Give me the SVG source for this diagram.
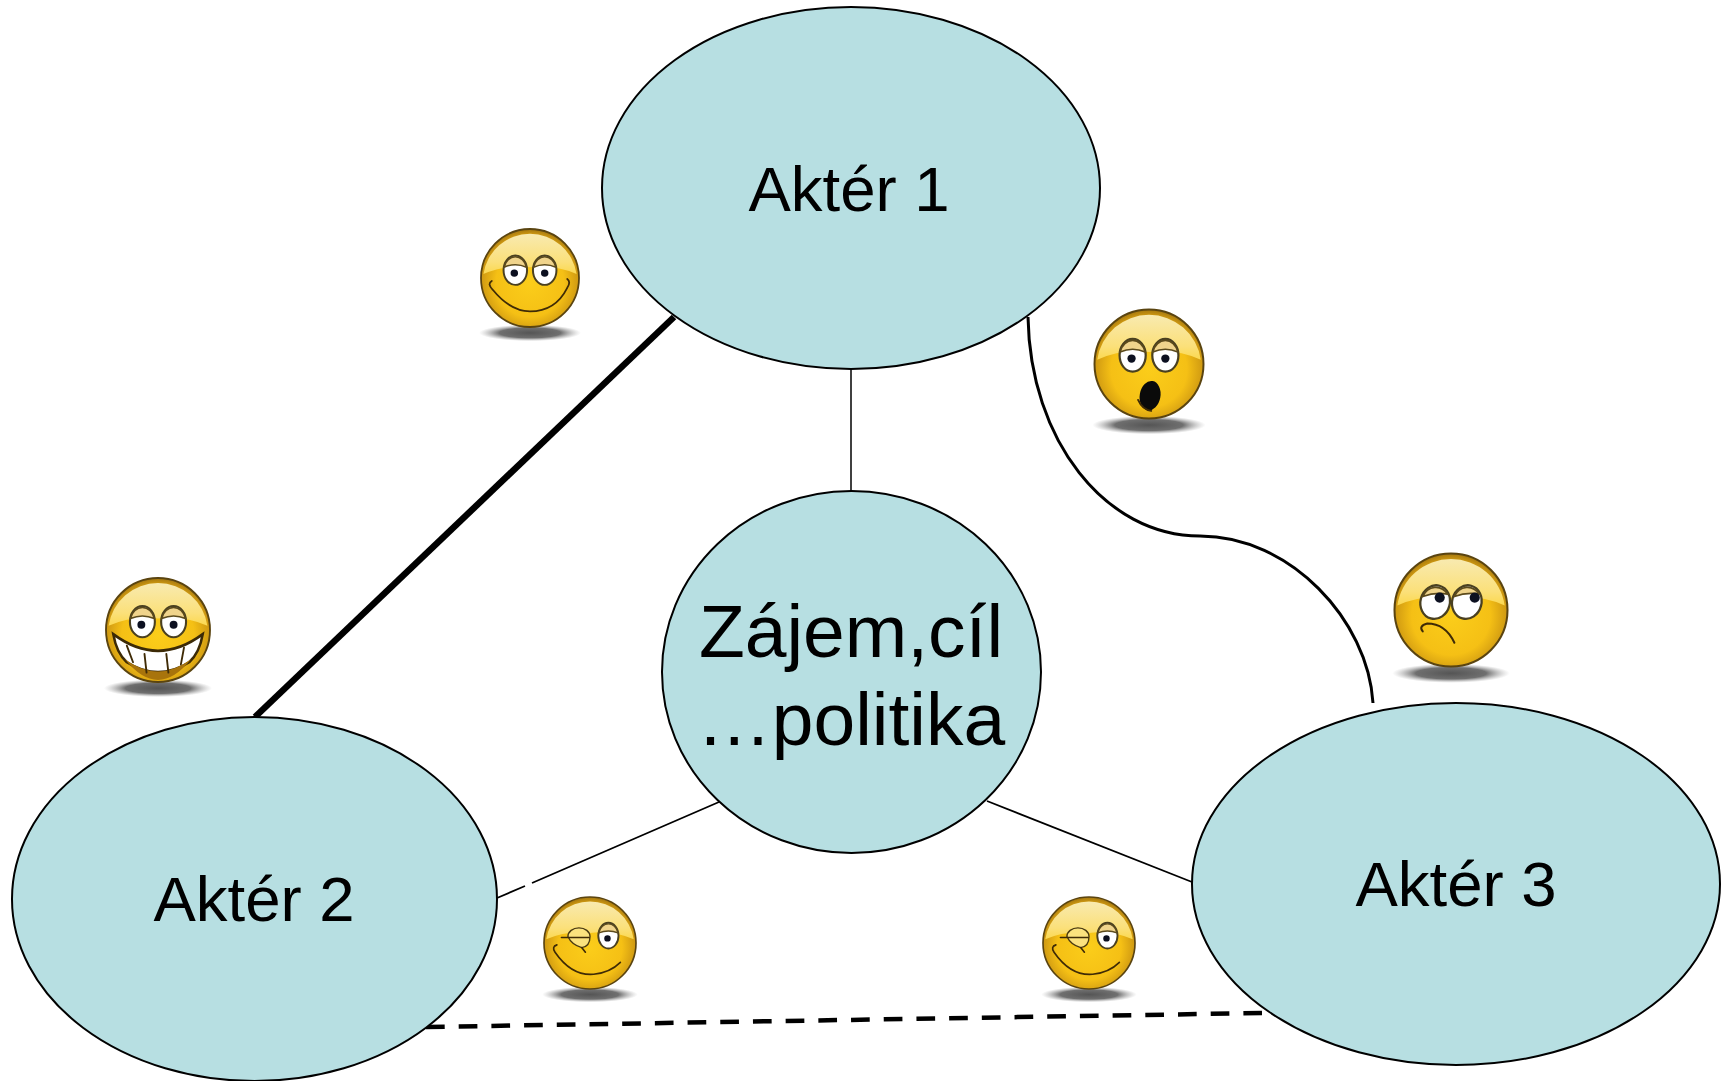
<svg xmlns="http://www.w3.org/2000/svg" width="1727" height="1081" viewBox="0 0 1727 1081">
<style>
.n{fill:#b7dfe2;stroke:#000;stroke-width:2}
.t{font-family:"Liberation Sans",Arial,sans-serif;font-size:63.500px;fill:#000;text-anchor:middle}
.b{font-size:75px}
.c{fill:none;stroke:#000}
.f{fill:none;stroke:#3f2b06;stroke-width:1.800;stroke-linecap:round}
.w{fill:url(#eye);stroke:#4a4020;stroke-width:2}
.l{fill:#f0d48c;stroke:#5b4a1c;stroke-width:1.500}
.p{fill:#0c1020}
</style>
<defs>
<radialGradient id="ball" cx="50%" cy="55%" r="58%">
<stop offset="0" stop-color="#fbcd1a"/><stop offset=".6" stop-color="#f5c015"/><stop offset=".85" stop-color="#d09a12"/><stop offset="1" stop-color="#8a620c"/>
</radialGradient>
<linearGradient id="gloss" x1="0" y1="0" x2="0" y2="1">
<stop offset="0" stop-color="#f8eab0"/><stop offset=".7" stop-color="#fbe07a"/><stop offset="1" stop-color="#fbd84e"/>
</linearGradient>
<radialGradient id="eye" cx="50%" cy="55%" r="60%">
<stop offset="0" stop-color="#fff"/><stop offset=".7" stop-color="#fff"/><stop offset="1" stop-color="#c6cbdc"/>
</radialGradient>
<radialGradient id="sh"><stop offset="0" stop-color="#555"/><stop offset=".6" stop-color="#6f6f6f"/><stop offset="1" stop-color="#aaa" stop-opacity="0"/></radialGradient>
<g id="base">
<ellipse cx="0" cy="56" rx="52" ry="8.500" fill="url(#sh)"/>
<circle r="50" fill="url(#ball)" stroke="#5a4410" stroke-width="1.800"/>
<path d="M-47.500-4A48 48 0 0 1 47.500-4Q25-14 0-11Q-25-14-47.500-4Z" fill="url(#gloss)"/>
</g>
<g id="eyes">
<ellipse class="w" cx="-15" cy="-8" rx="12" ry="15"/>
<ellipse class="w" cx="15" cy="-8" rx="12" ry="15"/>
<path class="l" d="M-26.500-11A12 15 0 0 1-3.500-11Q-15-16-26.500-11Z"/>
<path class="l" d="M3.500-11A12 15 0 0 1 26.500-11Q15-16 3.500-11Z"/>
<circle class="p" cx="-16" cy="-5" r="3.800"/>
<circle class="p" cx="15" cy="-5" r="3.800"/>
</g>
<g id="wink">
<path d="M-24-7A12 9.500 0 0 1 0-7Q0 4-9 5Q-20 2-24-7Z" fill="#fbe27e" stroke="#4a3a12" stroke-width="1.500"/>
<path class="f" d="M-31-6L-1-6M-9 5L-5 10"/>
<ellipse class="w" cx="20" cy="-8" rx="11" ry="14"/>
<path class="l" d="M9.500-11A11 14 0 0 1 30.500-11Q20-15 9.500-11Z"/>
<circle class="p" cx="19" cy="-5" r="3.500"/>
<path class="f" d="M-36 2Q-42 4-38 10Q-20 36 4 34Q22 32 33 21" stroke-width="2"/>
</g>
</defs>
<rect width="1727" height="1081" fill="#fff"/>
<g id="connectors">
<path class="c" stroke-width="6.500" d="M674 317L255 717"/>
<path class="c" stroke-width="1.500" d="M851 369V491"/>
<path class="c" stroke-width="3" d="M1028 317C1030 440 1105 536 1200 536C1290 536 1368 620 1373 703"/>
<path class="c" stroke-width="1.800" d="M719 802L532 883M525 886L497 898"/>
<path class="c" stroke-width="1.800" d="M987 801L1192 882"/>
<path class="c" stroke-width="4.500" stroke-dasharray="18.700 14" d="M426 1027L1262 1013"/>
</g>
<g id="actor1"><ellipse class="n" cx="851" cy="188" rx="249" ry="181"/><text class="t" x="849" y="211">Aktér 1</text></g>
<g id="actor2"><ellipse class="n" cx="254.500" cy="899" rx="242.500" ry="182"/><text class="t" x="254" y="921">Aktér 2</text></g>
<g id="actor3"><ellipse class="n" cx="1456" cy="884" rx="264" ry="181"/><text class="t" x="1456" y="906">Aktér 3</text></g>
<g id="center"><ellipse class="n" cx="851.500" cy="672" rx="189.500" ry="181"/><text class="t b" x="851" y="657">Zájem,cíl</text><text class="t b" x="851" y="745">…politika</text></g>
<g id="smiley1" transform="translate(530 278) scale(.98)"><use href="#base"/><use href="#eyes"/><path class="f" d="M-39 3Q-44 6-38 12Q-20 34 0 34Q26 34 38 10Q42 4 38 1" stroke-width="2"/></g>
<g id="smiley2" transform="translate(1149 364) scale(1.090)"><use href="#base"/><use href="#eyes"/><ellipse cx="1" cy="29" rx="9.500" ry="13.500" fill="#0a0a0a" transform="rotate(10 1 29)"/><path class="f" d="M-10 33Q-6 42 2 43"/></g>
<g id="smiley3" transform="translate(158 630) scale(1.040)"><use href="#base"/><use href="#eyes"/><path d="M-43 4Q0 36 43 4Q40 22 30 31Q0 50-30 31Q-40 22-43 4Z" fill="#fff" stroke="#3c2a06" stroke-width="2.500"/><path d="M-32 28Q0 52 32 28Q16 48 0 48Q-16 48-32 28Z" fill="#a8740c"/><path class="f" stroke-width="2.200" d="M-30 15L-24 31M-13 23L-11 41M8 23L10 41M25 17L22 33"/></g>
<g id="smiley4" transform="translate(1451 610) scale(1.130)"><use href="#base"/><ellipse class="w" cx="-14" cy="-7" rx="13" ry="15" transform="rotate(15 -14 -7)"/><ellipse class="w" cx="14" cy="-7" rx="13" ry="15" transform="rotate(15 14 -7)"/><path class="l" d="M-25-12A13 15 0 0 1-3-14Q-14-16-25-12Z"/><path class="l" d="M3-12A13 15 0 0 1 25-14Q14-16 3-12Z"/><circle class="p" cx="-10" cy="-11" r="4.500"/><circle class="p" cx="21" cy="-11" r="4.500"/><path class="f" stroke-width="2.200" d="M-25 19Q-29 14-21 12Q-5 12 3 29"/></g>
<g id="smiley5" transform="translate(590 943) scale(.92)"><use href="#base"/><use href="#wink"/></g>
<g id="smiley6" transform="translate(1089 943) scale(.92)"><use href="#base"/><use href="#wink"/></g>
</svg>
